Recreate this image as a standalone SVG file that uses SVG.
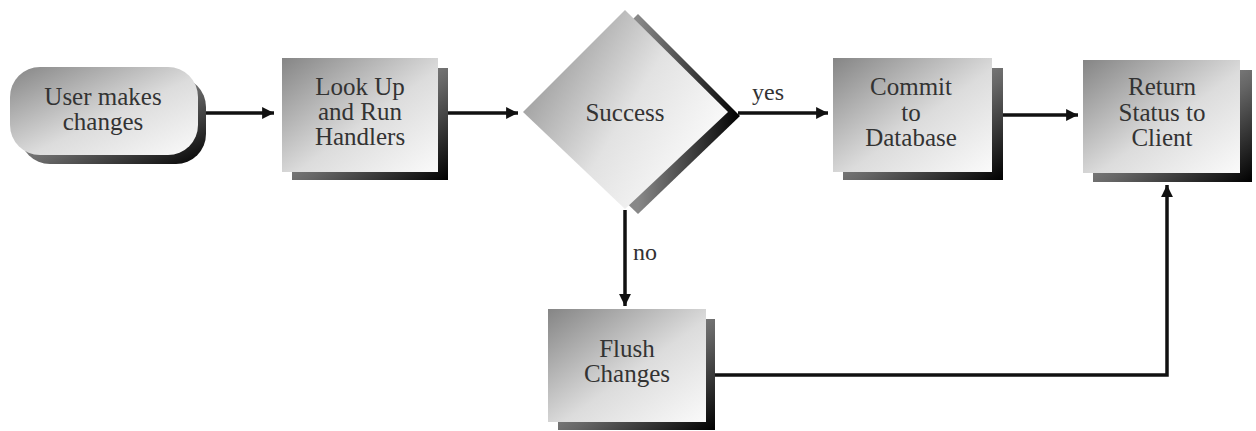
<svg xmlns="http://www.w3.org/2000/svg" width="1256" height="431" viewBox="0 0 1256 431">
<style>
.t{font-family:"Liberation Serif","Times New Roman",serif;font-size:25px;fill:#333;text-anchor:middle}
.lbl{font-family:"Liberation Serif","Times New Roman",serif;font-size:24px;fill:#333}
.face{fill:url(#faceG)}
.shadow{fill:url(#shadowG)}
.c{fill:none;stroke:#111;stroke-width:3.5}
</style>
<defs>
<linearGradient id="faceG" x1="0" y1="0" x2="1" y2="1">
<stop offset="0" stop-color="#858585"/>
<stop offset="0.55" stop-color="#dcdcdc"/>
<stop offset="1" stop-color="#fafafa"/>
</linearGradient>
<linearGradient id="shadowG" x1="0" y1="0" x2="1" y2="1">
<stop offset="0" stop-color="#c8c8c8"/>
<stop offset="0.55" stop-color="#666"/>
<stop offset="1" stop-color="#000"/>
</linearGradient>
<linearGradient id="dShadowG" x1="0" y1="0" x2="1" y2="0">
<stop offset="0.5" stop-color="#888"/>
<stop offset="1" stop-color="#000"/>
</linearGradient>
<linearGradient id="dFaceG" x1="0" y1="0" x2="1" y2="0.6">
<stop offset="0" stop-color="#808080"/>
<stop offset="0.6" stop-color="#e2e2e2"/>
<stop offset="1" stop-color="#fbfbfb"/>
</linearGradient>
<marker id="ah" viewBox="0 0 10 10" refX="10" refY="5" markerWidth="4.2" markerHeight="3.4" markerUnits="strokeWidth" orient="auto">
<path d="M0,0 L10,5 L0,10 z" fill="#111"/>
</marker>
</defs>
<rect width="1256" height="431" fill="#fff"/>

<g id="connectors">
<line class="c" x1="205" y1="113" x2="274" y2="113" marker-end="url(#ah)"/>
<line class="c" x1="448" y1="113" x2="518" y2="113" marker-end="url(#ah)"/>
<line class="c" x1="738" y1="113" x2="828" y2="113" marker-end="url(#ah)"/>
<line class="c" x1="1003" y1="115" x2="1078" y2="115" marker-end="url(#ah)"/>
<line class="c" x1="625" y1="210" x2="625" y2="306" marker-end="url(#ah)"/>
<polyline class="c" points="715,375 1167,375 1167,185" marker-end="url(#ah)"/>
<text class="lbl" x="752" y="100">yes</text>
<text class="lbl" x="633" y="260">no</text>
</g>

<g id="user-makes-changes">
<rect class="shadow" x="20" y="77" width="186" height="87" rx="30"/>
<rect class="face" x="10" y="67" width="188" height="88" rx="30"/>
<text class="t" x="103" y="105">User makes</text>
<text class="t" x="103" y="130">changes</text>
</g>

<g id="look-up-and-run-handlers">
<rect class="shadow" x="292" y="68" width="156" height="112"/>
<rect class="face" x="282" y="58" width="156" height="114"/>
<text class="t" x="360" y="95">Look Up</text>
<text class="t" x="360" y="120">and Run</text>
<text class="t" x="360" y="145">Handlers</text>
</g>

<g id="success">
<polygon points="638,14 740,116 638,214 536,116" fill="url(#dShadowG)"/>
<polygon points="625,10 728,112 625,209 523,112" fill="url(#dFaceG)"/>
<text class="t" x="625" y="121">Success</text>
</g>

<g id="commit-to-database">
<rect class="shadow" x="843" y="68" width="160" height="112"/>
<rect class="face" x="833" y="58" width="159" height="114"/>
<text class="t" x="911" y="95">Commit</text>
<text class="t" x="911" y="121">to</text>
<text class="t" x="911" y="146">Database</text>
</g>

<g id="return-status-to-client">
<rect class="shadow" x="1093" y="70" width="159" height="112"/>
<rect class="face" x="1083" y="60" width="157" height="113"/>
<text class="t" x="1162" y="95">Return</text>
<text class="t" x="1162" y="121">Status to</text>
<text class="t" x="1162" y="146">Client</text>
</g>

<g id="flush-changes">
<rect class="shadow" x="558" y="319" width="157" height="111"/>
<rect class="face" x="548" y="309" width="158" height="113"/>
<text class="t" x="627" y="357">Flush</text>
<text class="t" x="627" y="382">Changes</text>
</g>
</svg>
